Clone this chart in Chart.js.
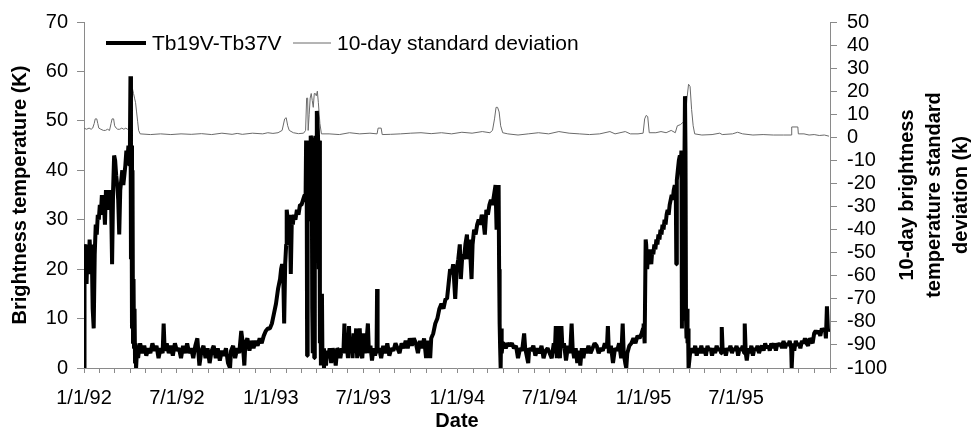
<!DOCTYPE html>
<html>
<head>
<meta charset="utf-8">
<script src="https://cdn.jsdelivr.net/npm/chart.js@4.4.0/dist/chart.umd.min.js"></script>
<style>
  html, body { margin: 0; padding: 0; background: #fff; }
  #wrap { width: 972px; height: 431px; }
</style>
</head>
<body>
<div id="wrap"><canvas id="tbChart" width="972" height="431"></canvas></div>
<script>
// x = days since 1/1/92, y = Tb19V-Tb37V (K)
const tbMelt92 = [[0,0],[1,25],[3,24],[5,17],[7,25],[9,19],[11,26],[13,22],[15,25],[17,12],[19,8],[21,23],[23,29],[25,27],[27,31],[29,30],[31,33],[33,31],[35,35],[37,32],[39,34],[41,29],[43,36],[45,33],[47,35],[49,32],[51,36],[53,34],[55,21],[57,36],[59,43],[61,42],[63,39],[65,37],[67,34],[69,27],[71,36],[73,38],[75,40],[77,37],[79,39],[81,41],[83,44],[85,42],[87,45],[89,41],[90,46],[91,59],[92,22],[93,45],[94,8],[95,40],[96,5],[97,18],[98,4],[99,12],[100,1],[101,5],[102,0],[104,4],[106,2],[108,4]];
const tbSummer92 = [[110,5],[114,3],[118,4.5],[122,2.5],[126,4],[130,3],[134,5],[138,3.5],[142,4.5],[146,2],[150,4],[154,3],[156,9],[158,3.5],[162,5],[166,3],[170,4.5],[174,2.5],[178,5],[182,3.5],[186,4],[190,2],[194,4.5],[198,3],[202,5],[206,3],[210,4],[214,2],[218,4.5],[222,6],[226,0.5],[230,3.5],[234,4.5],[238,2],[242,4],[246,1],[250,3.5],[254,4.5],[258,2],[262,4],[266,1.5],[270,3.5],[274,2.5],[278,4],[282,1],[286,0],[288,3.5],[292,4.5],[296,2],[300,4],[304,3],[308,7.5],[311,5],[314,0.5],[316,5],[320,6],[324,3.5],[328,5.5],[332,4],[336,5.5],[340,4.5],[344,6],[348,5],[352,6.5],[356,7.5],[360,8],[364,8]];
const tbMelt93 = [[368,9],[372,11],[376,13],[380,16],[384,18],[386,20],[388,21],[390,20],[392,9],[394,21],[396,25],[397,32],[399,30],[401,27],[403,31],[405,19],[407,30],[409,29],[411,31],[414,30],[417,32],[420,31],[423,33],[426,33],[429,34],[432,35],[434,35],[435,46],[436,44],[437,2.5],[438,40],[440,46],[442,45],[443,30],[444,47],[446,46],[447,12],[448,3],[449,40],[450,46],[451,2],[452,20],[453,47],[455,45],[456,52],[458,48],[459,44],[460,20],[461,46],[462,5],[463,15],[464,0.5],[466,15],[467,2],[469,4],[470,0],[472,3],[474,0.5],[476,3.5]];
const tbSummer93 = [[478,2],[481,4],[484,1],[487,4],[490,3],[493,0.5],[496,4],[499,3.5],[502,2],[505,4],[508,3],[510,9],[512,3],[514,5],[517,2],[519,8.5],[521,3],[523,6],[526,2],[528,7],[530,3],[533,8],[535,2],[537,4.5],[540,8],[542,3],[545,2],[548,7],[550,3],[553,5],[556,9],[558,3],[561,4.5],[564,1.5],[567,4],[570,2.5],[573,4],[574,16],[575,3],[578,4],[582,2],[586,4.5],[590,3],[594,5],[598,2.5],[602,4],[606,3.5],[610,5],[614,4],[618,3],[622,5],[626,4],[630,5.5],[634,4],[638,6],[642,4.5],[646,6],[650,5],[654,3],[658,5.5],[662,4],[666,6],[670,2],[674,5.5],[678,2],[680,6]];
const tbMelt94 = [[684,7],[688,9],[692,10],[696,12],[700,13],[704,12],[708,14],[711,14],[714,17],[717,20],[720,19],[723,21],[727,14],[730,20],[733,22],[736,25],[738,18],[741,23],[744,22],[747,25],[750,27],[752,22],[755,26],[759,18],[761,25],[764,28],[767,27],[770,29],[773,30],[776,29],[779,31],[782,30],[785,27],[788,32],[791,31],[794,33],[797,34],[800,33],[803,35],[806,37],[808,28],[810,34],[812,37],[813,20],[814,9],[815,4],[816,0],[817,8],[818,3],[820,5]];
const tbSummer94 = [[822,5],[826,4],[830,5],[834,4.5],[838,5],[842,4],[846,4.5],[850,2],[854,4],[858,3.5],[862,7],[864,4],[866,3],[870,1],[872,4],[876,3.5],[880,4.5],[884,2.5],[888,4],[892,3],[896,4.5],[900,2],[904,3.5],[908,4],[912,3],[916,2],[920,5],[922,3],[924,8.5],[926,2],[928,8.5],[930,3.5],[932,2],[935,8.5],[937,4],[940,5],[944,1.5],[948,4.5],[952,3],[955,9],[957,4],[960,2],[963,4],[966,1],[969,3.5],[972,0.5],[975,4],[978,2],[981,4],[984,3],[988,4.5],[992,3],[996,4],[1000,5],[1004,4.5],[1008,3],[1012,4],[1016,3.5],[1020,5],[1024,4],[1026,8.5],[1028,3],[1032,4.5],[1036,1],[1040,4],[1044,3.5],[1048,5],[1052,2],[1055,9],[1057,3],[1060,1],[1062,0],[1064,3],[1068,4.5],[1072,5],[1076,6],[1080,5],[1084,6.5],[1088,6],[1092,7],[1095,8]];
const tbMelt95 = [[1096,9],[1098,5],[1100,26],[1101,25],[1103,20],[1105,24],[1107,22],[1109,23],[1111,21],[1113,24],[1115,23],[1117,25],[1119,24],[1121,26],[1123,25],[1125,27],[1127,26],[1129,28],[1131,27],[1133,29],[1135,28],[1137,30],[1139,29],[1141,31],[1143,32],[1145,31],[1147,33],[1149,34],[1151,35],[1153,34],[1155,36],[1157,37],[1159,36],[1160,21],[1161,38],[1163,40],[1165,42],[1167,43],[1169,41],[1170,44],[1171,8],[1172,40],[1173,42],[1174,10],[1175,30],[1177,55],[1178,44],[1179,10],[1180,6],[1181,12],[1182,5],[1183,8],[1184,0],[1186,2],[1188,4],[1190,3],[1192,4]];
const tbSummer95 = [[1194,3],[1197,4.5],[1200,2.5],[1203,4],[1206,3],[1209,4.5],[1212,3],[1215,4],[1218,2.5],[1221,4.5],[1224,3.5],[1227,4],[1230,2.5],[1233,4],[1236,3],[1239,4.5],[1242,3.5],[1245,4],[1248,3],[1249,8.3],[1251,3],[1254,4],[1257,2.5],[1260,4],[1263,3.5],[1266,4.5],[1269,3],[1272,4],[1275,3.5],[1278,4.5],[1281,2.5],[1284,4],[1287,3.5],[1290,4.5],[1293,3],[1294,9],[1296,3],[1298,1.5],[1301,4],[1304,3],[1307,4.5],[1310,2.5],[1313,4],[1316,3.5],[1319,4.5],[1322,3],[1325,4],[1328,4.5],[1331,3.5],[1334,5],[1337,4],[1340,4.5],[1343,3.5],[1346,5],[1349,4],[1352,5],[1355,3.5],[1358,5],[1361,4.5],[1364,5],[1367,4],[1370,5.5],[1373,4],[1376,5],[1379,4.5],[1382,5.5],[1385,4],[1386,0],[1388,5],[1391,3.5],[1394,5.5],[1397,4.5],[1400,5],[1403,4],[1406,5.5],[1409,5],[1412,6],[1415,5],[1418,4.5],[1421,6],[1424,5.5],[1427,5],[1430,7],[1433,7.5],[1436,7],[1439,7.5],[1442,6.5],[1445,8],[1448,7.5],[1451,8],[1453,6],[1455,12.5],[1457,7.5],[1460,8]];

// 10-day standard deviation (right axis)
const sdSeries = [[0,4],[5,3.5],[10,4],[14,3.5],[17,4],[20,6],[22,8],[25,8],[27,6],[29,4],[33,3.5],[38,3],[42,3],[46,3.5],[50,3],[53,6],[55,8],[58,8],[60,5],[63,4],[66,3.5],[70,3.5],[74,4],[78,3.5],[82,4],[85,3.5],[88,4],[90,7],[93,15],[95,21],[97,19],[99,17],[101,15],[103,11],[105,7],[107,3],[110,1.5],[130,1.2],[150,1.5],[170,1.2],[190,1.5],[210,1.3],[230,1.6],[250,1.2],[270,1.8],[290,1.3],[300,1.7],[310,1.3],[330,1.8],[350,1.5],[360,2],[370,1.7],[380,2],[388,3],[393,8],[396,8.5],[399,5],[402,3],[410,2],[420,1.6],[430,1.8],[434,3],[436,17],[438,17],[439,3],[441,10],[443,17],[445,19],[447,16],[449,13],[451,19],[453,19],[455,18],[457,20],[459,15],[462,6],[465,1.5],[480,1.5],[500,1.2],[520,2],[540,1.5],[560,1.8],[574,1.5],[576,4],[582,4],[584,1.2],[600,1.3],[620,1.5],[640,1.8],[660,2],[680,1.6],[700,2],[720,1.5],[740,2.2],[760,1.8],[780,2.5],[795,2],[800,3],[804,8],[807,13],[810,13],[813,11],[816,5],[820,2],[830,1.5],[850,1],[870,1.5],[890,2],[910,1.5],[930,2.5],[950,1.8],[970,1.5],[990,1.2],[1010,1.5],[1030,2.5],[1040,1.5],[1060,2.5],[1070,1.5],[1085,1.5],[1095,1.8],[1098,8],[1101,9.5],[1104,9],[1107,2],[1120,2],[1130,2.5],[1140,2],[1150,3],[1158,2],[1162,5],[1168,5.5],[1173,6.5],[1177,7],[1181,17],[1184,23],[1187,22],[1190,12],[1193,5],[1196,1.5],[1210,1],[1230,1.2],[1245,1.8],[1250,1.2],[1270,1.5],[1280,2.2],[1290,1.5],[1310,1],[1330,1.2],[1350,1],[1370,1],[1385,1],[1386,4.5],[1398,4.5],[1399,1.5],[1410,1.5],[1420,1],[1430,1.2],[1440,0.8],[1450,1],[1459,0.5]];

const xTickDays = [0, 182, 366, 547, 731, 912, 1096, 1277];
const xTickLabels = ['1/1/92', '7/1/92', '1/1/93', '7/1/93', '1/1/94', '7/1/94', '1/1/95', '7/1/95'];
const xEndDay = 1461;

const leftTitle = 'Brightness temperature (K)';
const rightTitle = ['10-day brightness', 'temperature standard', 'deviation (k)'];
const xTitle = 'Date';

const FONT = '"Liberation Sans", Arial, Helvetica, sans-serif';

const toPoints = arr => arr.map(p => ({ x: p[0], y: p[1] }));
const tbAll = [].concat(tbMelt92, tbSummer92, tbMelt93, tbSummer93, tbMelt94, tbSummer94, tbMelt95, tbSummer95);

// minor ticks at every month start
const monthDays = [];
for (let y = 1992; y <= 1996; y++) {
    for (let m = 0; m < 12; m++) {
        const d = Math.round((Date.UTC(y, m, 1) - Date.UTC(1992, 0, 1)) / 86400000);
        if (d <= xEndDay) monthDays.push(d);
    }
}

// titles + legend drawn by hand (legend sits inside the plot)
const extrasPlugin = {
    id: 'extras',
    afterDraw(chart) {
        const ctx = chart.ctx;
        const area = chart.chartArea;
        const midY = (area.top + area.bottom) / 2;
        ctx.save();
        ctx.fillStyle = '#000';
        ctx.textAlign = 'center';
        ctx.textBaseline = 'middle';
        ctx.font = 'bold 20px ' + FONT;

        ctx.save();
        ctx.translate(20, midY);
        ctx.rotate(-Math.PI / 2);
        ctx.fillText(leftTitle, 0, 0);
        ctx.restore();

        rightTitle.forEach((line, i) => {
            ctx.save();
            ctx.translate(area.right + 77 + i * 27, midY);
            ctx.rotate(-Math.PI / 2);
            ctx.fillText(line, 0, 0);
            ctx.restore();
        });

        ctx.fillText(xTitle, (area.left + area.right) / 2, 421);

        // legend
        const ds = chart.data.datasets;
        const ly = area.top + 21;
        ctx.font = '21px ' + FONT;
        ctx.textAlign = 'left';
        ctx.lineCap = 'butt';
        const items = [
            { x0: area.left + 22, x1: area.left + 62, tx: area.left + 68, d: ds[0] },
            { x0: area.left + 209, x1: area.left + 247, tx: area.left + 253, d: ds[1] }
        ];
        items.forEach(it => {
            ctx.strokeStyle = it.d.borderColor;
            ctx.lineWidth = it.d.borderWidth;
            ctx.beginPath();
            ctx.moveTo(it.x0, ly);
            ctx.lineTo(it.x1, ly);
            ctx.stroke();
            ctx.fillText(it.d.label, it.tx, ly + 1);
        });
        ctx.restore();
    }
};

const axisColor = '#8a8a8a';

new Chart(document.getElementById('tbChart'), {
    type: 'line',
    data: {
        datasets: [{
            label: 'Tb19V-Tb37V',
            data: toPoints(tbAll),
            borderColor: '#000',
            borderWidth: 4,
            borderJoinStyle: 'bevel',
            pointRadius: 0,
            tension: 0,
            yAxisID: 'y'
        }, {
            label: '10-day standard deviation',
            data: toPoints(sdSeries),
            borderColor: '#6a6a6a',
            borderWidth: 1,
            pointRadius: 0,
            tension: 0,
            yAxisID: 'y1'
        }]
    },
    options: {
        responsive: false,
        animation: false,
        devicePixelRatio: 1,
        layout: { padding: { top: 20, left: 0, right: 0, bottom: 0 } },
        plugins: {
            legend: { display: false },
            tooltip: { enabled: false }
        },
        scales: {
            x: {
                type: 'linear',
                min: 0,
                max: xEndDay,
                afterBuildTicks: s => { s.ticks = monthDays.map(v => ({ value: v })); },
                afterFit: s => { s.height = 63; },
                grid: { drawOnChartArea: false, drawTicks: true, tickLength: 5, color: axisColor },
                border: { display: true, color: axisColor, width: 1 },
                ticks: {
                    autoSkip: false,
                    maxRotation: 0,
                    padding: 13,
                    color: '#000',
                    font: { family: FONT, size: 20 },
                    callback: v => {
                        const i = xTickDays.indexOf(v);
                        return i >= 0 ? xTickLabels[i] : '';
                    }
                }
            },
            y: {
                position: 'left',
                min: 0,
                max: 70,
                afterFit: s => { s.width = 84; },
                grid: { drawOnChartArea: false, tickLength: 7, color: axisColor },
                border: { display: true, color: axisColor, width: 1 },
                ticks: { stepSize: 10, autoSkip: false, padding: 9, color: '#000', font: { family: FONT, size: 20 } }
            },
            y1: {
                position: 'right',
                min: -100,
                max: 50,
                afterFit: s => { s.width = 142; },
                grid: { drawOnChartArea: false, tickLength: 7, color: axisColor },
                border: { display: true, color: axisColor, width: 1 },
                ticks: { stepSize: 10, autoSkip: false, padding: 10, color: '#000', font: { family: FONT, size: 20 } }
            }
        }
    },
    plugins: [extrasPlugin]
});
</script>
</body>
</html>
